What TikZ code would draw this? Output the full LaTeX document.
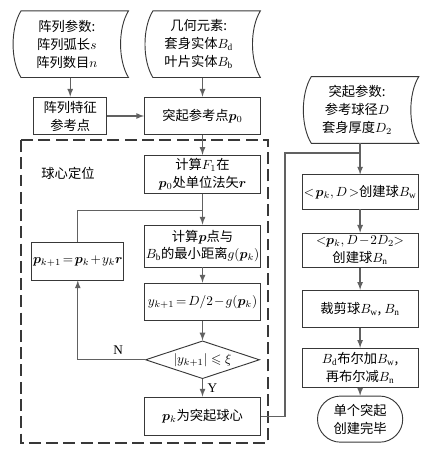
\documentclass[tikz,border=0pt]{standalone}
\usepackage{fontspec}
\usepackage{amssymb}
\usepackage{bm}
\setmainfont{Liberation Serif}
\newfontfamily\cjk{Noto Sans CJK SC}
\usetikzlibrary{shapes.geometric, shapes.misc, arrows, positioning, calc}
\definecolor{framegray}{rgb}{0.22, 0.22, 0.22}
\definecolor{flowgray}{rgb}{0.38, 0.38, 0.38}
\tikzstyle{process} = [rectangle, minimum width=3.07cm, minimum height=1cm, inner sep=1pt, text centered, draw=framegray, line width=0.7pt]
\tikzstyle{store} = [rectangle, minimum width=2.83cm, minimum height=1.75cm, inner sep=0pt, text centered]
\tikzstyle{decision} = [diamond, aspect=3, minimum width=3.02cm, minimum height=1cm, inner sep=0pt, text centered, draw=framegray, line width=0.7pt]
\tikzstyle{terminal} = [rounded rectangle, minimum width=2.49cm, minimum height=1.22cm, text centered, draw=framegray, line width=0.7pt]
\tikzstyle{arrow} = [line width=1pt, draw=flowgray, ->, >=latex]
\tikzstyle{line} = [line width=1pt, draw=flowgray, -]
\tikzstyle{zone} = [line width=1.2pt, draw=framegray, dash pattern=on 9pt off 4pt]
\tikzstyle{tag} = [font=\rmfamily\fontsize{10pt}{12pt}\selectfont]

% outline of a stored-data box round a named node
\newcommand{\storeframe}[1]{%
  \draw[framegray, line width=0.7pt] ([xshift=0.21cm]#1.north west) .. controls +(-0.28,-0.45) and +(-0.28,0.45) .. ([xshift=0.21cm]#1.south west) -- ([xshift=0.21cm]#1.south east) .. controls +(-0.28,0.45) and +(-0.28,-0.45) .. ([xshift=0.21cm]#1.north east) -- cycle;}
% tighter spacing round = and + as in the source figure
\newcommand{\tightmath}{\medmuskip=1.5mu\thickmuskip=2.5mu}

\begin{document}
\begin{tikzpicture}[node distance=1.5cm, align=center, font=\cjk\fontsize{10pt}{13.5pt}\selectfont]
\useasboundingbox (0,0) rectangle (11.351,-11.959);

% Inputs
\node (p0) [process] at (5.358,-3.069) {突起参考点$\bm{p}_0$};
\node (feat) [process, minimum width=1.93cm, left of=p0, xshift=-2cm] {阵列特征\\参考点};
\node (in1) [store, above of=feat, xshift=-0.09cm, yshift=0.4cm] {阵列参数:\\阵列弧长$s$\\阵列数目$n$};
\node (in2) [store, above of=p0, xshift=-0.1cm, yshift=0.4cm] {几何元素:\\套身实体$B_\mathrm{d}$\\叶片实体$B_\mathrm{b}$};
\node (in3) [store, right of=p0, xshift=2.59cm, yshift=0.16cm] {突起参数:\\参考球径$D$\\套身厚度$D_2$};
\storeframe{in1}
\storeframe{in2}
\storeframe{in3}

% Sphere centre loop
\node (f1) [process, below of=p0, yshift=-0.04cm] {计算$F_1$在\\$\bm{p}_0$处单位法矢$\bm{r}$};
\node (calc) [process, minimum height=1.11cm, below of=f1, yshift=-0.4cm] {计算$\bm{p}$点与\\$B_\mathrm{b}$的最小距离$g(\bm{p}_k)$};
\node (ynext) [process, below of=calc, yshift=0.02cm] {\tightmath$y_{k+1}=D/2-g(\bm{p}_k)$};
\node (check) [decision, below of=ynext, yshift=-0.03cm] {$|y_{k+1}|\leqslant\xi$};
\node (center) [process, minimum height=1.03cm, below of=check] {$\bm{p}_k$为突起球心};
\node (update) [process, minimum width=2.25cm, left of=calc, xshift=-1.8cm, yshift=-0.4cm] {\tightmath$\bm{p}_{k+1}=\bm{p}_k+y_k\bm{r}$};
\node (zonetag) at (1.80,-4.58) {球心定位};
\draw[zone] (0.556,-3.704) rectangle (7.091,-11.721);

% Boss creation
\node (ballw) [process, minimum height=0.9cm, below of=in3, xshift=0.08cm, yshift=-0.67cm] {$<\!\bm{p}_k,D\!>$创建球$B_\mathrm{w}$};
\node (balln) [process, minimum height=0.9cm, below of=ballw, yshift=-0.04cm] {\tightmath$<\!\bm{p}_k, D-2D_2\!>$\\创建球$B_\mathrm{n}$};
\node (cut) [process, minimum height=0.98cm, below of=balln, yshift=-0.05cm] {裁剪球$B_\mathrm{w}$, $B_\mathrm{n}$};
\node (bool) [process, minimum height=1.03cm, below of=cut, yshift=-0.06cm] {$B_\mathrm{d}$布尔加$B_\mathrm{w}$,\\再布尔减$B_\mathrm{n}$};
\node (done) [terminal, below of=bool, yshift=0.14cm] {单个突起\\创建完毕};

\coordinate (join) at ([yshift=-0.45cm]f1.south);
\coordinate (merge) at ([xshift=0.08cm, yshift=-0.26cm]in3.south);

\draw[arrow] (feat.north |- in1.south) -- (feat.north);
\draw[arrow] (p0.north |- in2.south) -- (p0.north);
\draw[arrow] (feat) -- (p0);
\draw[arrow] (p0) -- (f1);
\draw[arrow] (f1) -- (calc);
\draw[line] (update.north) |- (join);
\draw[arrow] (calc) -- (ynext);
\draw[arrow] (ynext) -- (check);
\draw[arrow] (check.west) -| node[tag, above, pos=0.2] {N} (update.south);
\draw[arrow] (check) -- node[tag, right] {Y} (center);
\draw[line] (ballw.north |- in3.south) -- (merge);
\draw[line] (center.east) -- ++(0.635,0) |- (merge);
\draw[arrow] (merge) -- (ballw);
\draw[arrow] (ballw) -- (balln);
\draw[arrow] (balln) -- (cut);
\draw[arrow] (cut) -- (bool);
\draw[arrow] (bool) -- (done);

\end{tikzpicture}
\end{document}
